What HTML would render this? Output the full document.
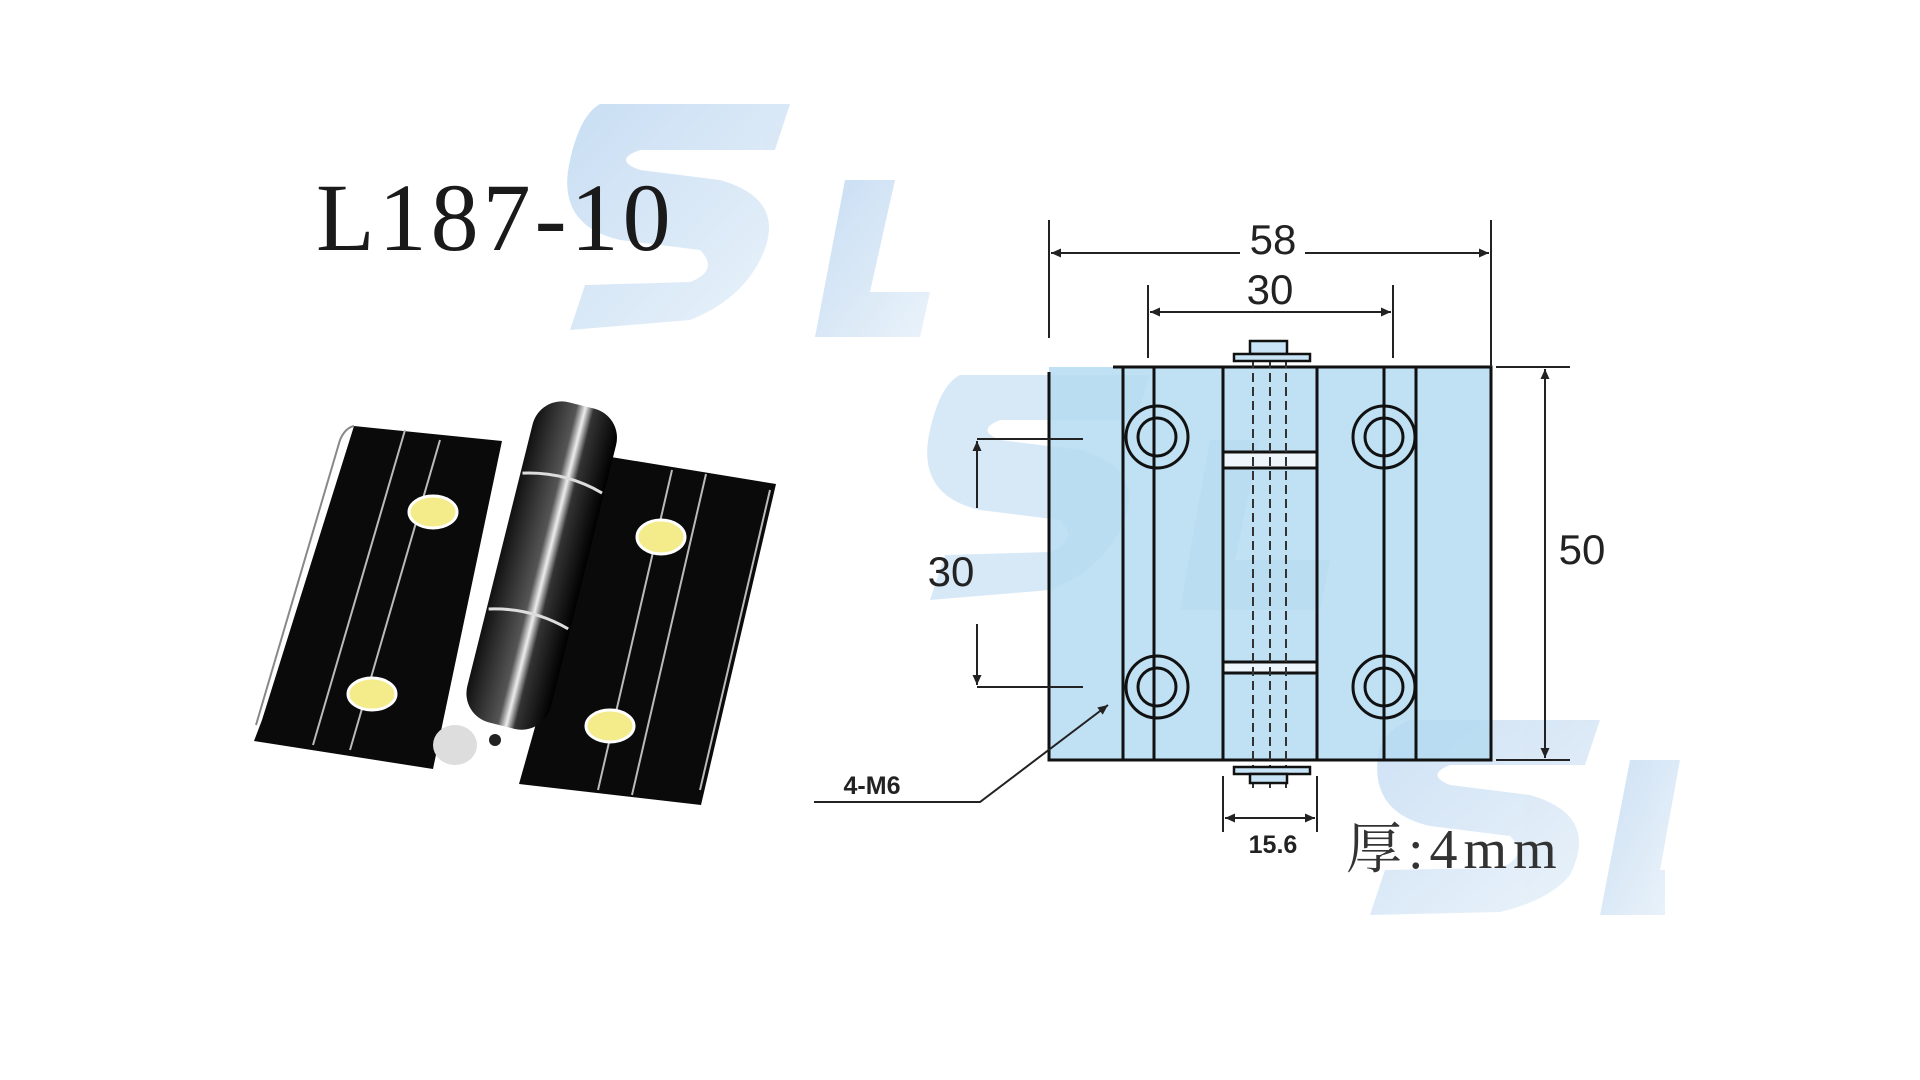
<!DOCTYPE html>
<html><head><meta charset="utf-8"><style>
html,body{margin:0;padding:0;background:#fff;}
svg{display:block;}
</style></head><body>
<svg width="1920" height="1080" viewBox="0 0 1920 1080" xmlns="http://www.w3.org/2000/svg">
<defs>
<marker id="ar" viewBox="0 0 10 10" refX="10" refY="5" markerWidth="20" markerHeight="10" orient="auto-start-reverse" markerUnits="userSpaceOnUse"><path d="M0,0.5 L10,5 L0,9.5 z" fill="#222"/></marker>
<linearGradient id="bar" x1="0" y1="0" x2="1" y2="0"><stop offset="0" stop-color="#111"/><stop offset="0.45" stop-color="#555"/><stop offset="0.55" stop-color="#eee"/><stop offset="0.65" stop-color="#333"/><stop offset="1" stop-color="#000"/></linearGradient>
<linearGradient id="wm" x1="0" y1="0" x2="1" y2="1"><stop offset="0" stop-color="#9cc3ea"/><stop offset="1" stop-color="#d8e8f6"/></linearGradient>
</defs>
<!-- watermarks -->
<g fill="url(#wm)" opacity="0.55">
<path d="M600,104 L790,104 L775,150 L640,150 Q612,160 640,170 L720,180 Q790,200 760,260 Q740,300 690,320 L570,330 L585,285 L690,282 Q720,270 700,250 L620,240 Q555,225 570,160 Q580,115 600,104z"/>
<path d="M845,180 L895,180 L870,292 L930,292 L920,337 L815,337z"/>
</g>
<g fill="#9cc6ec" opacity="0.4">
<path d="M960,375 L1150,375 L1135,420 L1000,420 Q975,430 1000,440 L1080,450 Q1150,470 1120,530 Q1100,570 1050,590 L930,600 L945,555 L1050,552 Q1080,540 1060,520 L980,510 Q915,495 930,430 Q940,385 960,375z"/>
<path d="M1210,440 L1260,440 L1235,560 L1330,560 L1320,610 L1180,610z"/>
</g>
<g fill="url(#wm)" opacity="0.5">
<path d="M1410,720 L1600,720 L1585,765 L1450,765 Q1425,775 1450,785 L1530,795 Q1600,815 1570,875 Q1550,900 1500,912 L1370,915 L1385,870 L1500,868 Q1530,856 1510,836 L1430,826 Q1365,811 1380,746 Q1390,728 1410,720z"/>
<path d="M1630,760 L1680,760 L1660,870 L1665,870 L1665,915 L1600,915z"/>
</g>
<!-- title -->
<text x="316" y="250" font-family="Liberation Serif, serif" font-size="96" letter-spacing="4" fill="#1a1a1a">L187-10</text>
<!-- photo hinge -->
<polygon points="354,426 502,441 433,769 254,741 262,720" fill="#0a0a0a"/>
<polygon points="611,457 776,484 701,805 519,784" fill="#0a0a0a"/>
<path d="M354,426 Q345,428 340,440 L256,725" stroke="#888" stroke-width="2" fill="none"/>
<g stroke="#bbb" stroke-width="2" fill="none">
<line x1="405" y1="430" x2="313" y2="745"/><line x1="440" y1="440" x2="350" y2="750"/>
<line x1="672" y1="470" x2="598" y2="790"/><line x1="706" y1="474" x2="632" y2="795"/>
<line x1="770" y1="490" x2="700" y2="790"/>
</g>
<g transform="rotate(14 540 560)">
<rect x="500" y="400" width="86" height="330" rx="30" fill="url(#bar)"/>
<path d="M502,480 Q543,468 584,480" stroke="#ddd" stroke-width="3" fill="none"/>
<path d="M502,620 Q543,608 584,620" stroke="#ddd" stroke-width="3" fill="none"/>
</g>
<ellipse cx="455" cy="745" rx="22" ry="20" fill="#ddd"/><circle cx="495" cy="740" r="6" fill="#222"/>
<g fill="#f4eb8a" stroke="#fff" stroke-width="3">
<ellipse cx="433" cy="512" rx="24" ry="16"/><ellipse cx="661" cy="537" rx="24" ry="17"/>
<ellipse cx="372" cy="694" rx="24" ry="16"/><ellipse cx="610" cy="726" rx="24" ry="16"/>
</g>
<!-- drawing -->
<rect x="1049" y="367" width="442" height="393" fill="#b5daf1" opacity="0.85"/>
<g stroke="#111" stroke-width="3" fill="none">
<path d="M1049,372 L1049,760 L1491,760 L1491,367 L1113,367"/>
<line x1="1123" y1="367" x2="1123" y2="760"/><line x1="1154" y1="367" x2="1154" y2="760"/>
<line x1="1223" y1="367" x2="1223" y2="760"/><line x1="1317" y1="367" x2="1317" y2="760"/>
<line x1="1384" y1="367" x2="1384" y2="760"/><line x1="1416" y1="367" x2="1416" y2="760"/>
<rect x="1223" y="452" width="94" height="16" fill="#eef6fc"/>
<rect x="1223" y="662" width="94" height="11" fill="#eef6fc"/>
</g>
<g stroke="#333" stroke-width="2" stroke-dasharray="9,5">
<line x1="1253" y1="345" x2="1253" y2="790"/><line x1="1270" y1="345" x2="1270" y2="790"/><line x1="1286" y1="345" x2="1286" y2="790"/>
</g>
<g stroke="#111" stroke-width="2.5" fill="#c8e4f6">
<rect x="1250" y="341" width="37" height="13"/><rect x="1234" y="354" width="76" height="7"/>
<rect x="1234" y="767" width="76" height="7"/><rect x="1250" y="774" width="37" height="9"/>
</g>
<g stroke="#111" stroke-width="3" fill="none">
<circle cx="1157" cy="437" r="31"/><circle cx="1157" cy="437" r="19"/>
<circle cx="1384" cy="437" r="31"/><circle cx="1384" cy="437" r="19"/>
<circle cx="1157" cy="687" r="31"/><circle cx="1157" cy="687" r="19"/>
<circle cx="1384" cy="687" r="31"/><circle cx="1384" cy="687" r="19"/>
</g>
<g stroke="#222" stroke-width="2" fill="none">
<line x1="1049" y1="220" x2="1049" y2="338"/><line x1="1491" y1="220" x2="1491" y2="367"/>
<line x1="1051" y1="253" x2="1240" y2="253" marker-start="url(#ar)"/><line x1="1305" y1="253" x2="1489" y2="253" marker-end="url(#ar)"/>
<line x1="1148" y1="285" x2="1148" y2="358"/><line x1="1393" y1="285" x2="1393" y2="358"/>
<line x1="1150" y1="312" x2="1391" y2="312" marker-start="url(#ar)" marker-end="url(#ar)"/>
<line x1="1496" y1="367" x2="1570" y2="367"/><line x1="1496" y1="760" x2="1570" y2="760"/>
<line x1="1545" y1="369" x2="1545" y2="758" marker-start="url(#ar)" marker-end="url(#ar)"/>
<line x1="977" y1="439" x2="1083" y2="439"/><line x1="977" y1="687" x2="1083" y2="687"/>
<line x1="977" y1="441" x2="977" y2="508" marker-start="url(#ar)"/><line x1="977" y1="624" x2="977" y2="685" marker-end="url(#ar)"/>
<line x1="1223" y1="776" x2="1223" y2="832"/><line x1="1317" y1="776" x2="1317" y2="832"/>
<line x1="1225" y1="818" x2="1315" y2="818" marker-start="url(#ar)" marker-end="url(#ar)"/>
<polyline points="814,802 980,802 1108,705" marker-end="url(#ar)"/>
</g>
<g font-family="Liberation Sans, sans-serif" fill="#222" text-anchor="middle">
<text x="1273" y="254" font-size="42">58</text>
<text x="1270" y="304" font-size="42">30</text>
<text x="1582" y="564" font-size="42">50</text>
<text x="951" y="586" font-size="42">30</text>
<text x="1273" y="853" font-size="25" font-weight="bold">15.6</text>
<text x="872" y="794" font-size="25" font-weight="bold">4-M6</text>
</g>
<text x="1346" y="868" font-family="Liberation Serif, 'Noto Serif CJK SC', serif" font-size="56" letter-spacing="6" fill="#333">厚:4mm</text>
</svg>
</body></html>
